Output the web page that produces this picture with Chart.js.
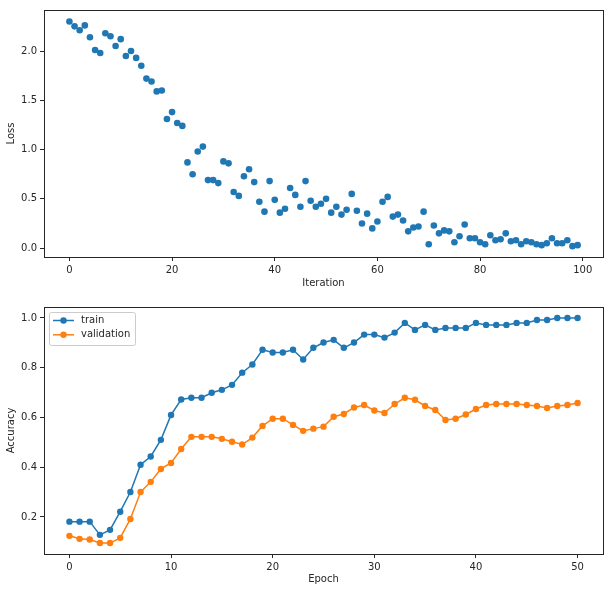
<!DOCTYPE html>
<html>
<head>
<meta charset="utf-8">
<script src="https://cdn.jsdelivr.net/npm/chart.js@4"></script>
<style>
  body { margin: 0; background: #fff; }
  #wrap { position: relative; width: 612px; height: 592px; }
  #lossBox { position: absolute; left: 0; top: 0; width: 612px; height: 290px; }
  #accBox { position: absolute; left: 0; top: 290px; width: 612px; height: 302px; }
</style>
</head>
<body>
<div id="wrap">
  <div id="lossBox"><canvas id="lossChart"></canvas></div>
  <div id="accBox"><canvas id="accChart"></canvas></div>
</div>
<script>
// loss per iteration (index = iteration)
const lossValues = [
  2.30, 2.25, 2.21, 2.26, 2.14, 2.01, 1.98, 2.18, 2.15, 2.05,
  2.12, 1.95, 2.00, 1.93, 1.85, 1.72, 1.69, 1.59, 1.60, 1.31,
  1.38, 1.27, 1.24, 0.87, 0.75, 0.98, 1.03, 0.69, 0.69, 0.66,
  0.88, 0.86, 0.57, 0.53, 0.73, 0.80, 0.67, 0.47, 0.37, 0.68,
  0.49, 0.36, 0.40, 0.61, 0.54, 0.42, 0.68, 0.48, 0.42, 0.45,
  0.50, 0.36, 0.42, 0.34, 0.39, 0.55, 0.38, 0.25, 0.35, 0.20,
  0.27, 0.47, 0.52, 0.32, 0.34, 0.28, 0.17, 0.21, 0.22, 0.37,
  0.04, 0.23, 0.15, 0.18, 0.17, 0.06, 0.12, 0.24, 0.10, 0.10,
  0.06, 0.04, 0.13, 0.08, 0.09, 0.15, 0.07, 0.08, 0.04, 0.07,
  0.06, 0.04, 0.03, 0.05, 0.10, 0.05, 0.05, 0.08, 0.02, 0.03
];

// accuracy per epoch (index = epoch)
const trainAcc = [
  0.181, 0.181, 0.181, 0.128, 0.148, 0.221, 0.300, 0.410, 0.443, 0.510,
  0.610, 0.672, 0.679, 0.679, 0.699, 0.711, 0.731, 0.780, 0.813, 0.872,
  0.861, 0.861, 0.872, 0.833, 0.880, 0.901, 0.912, 0.880, 0.901, 0.933,
  0.933, 0.921, 0.941, 0.980, 0.952, 0.972, 0.952, 0.960, 0.960, 0.960,
  0.980, 0.972, 0.972, 0.972, 0.980, 0.980, 0.992, 0.992, 1.000, 1.000,
  1.000
];
const valAcc = [
  0.124, 0.112, 0.109, 0.095, 0.095, 0.116, 0.192, 0.300, 0.341, 0.393,
  0.417, 0.473, 0.522, 0.522, 0.522, 0.514, 0.502, 0.491, 0.519, 0.566,
  0.595, 0.595, 0.570, 0.546, 0.555, 0.563, 0.603, 0.614, 0.640, 0.650,
  0.628, 0.618, 0.654, 0.679, 0.671, 0.646, 0.630, 0.590, 0.595, 0.612,
  0.634, 0.650, 0.654, 0.654, 0.654, 0.650, 0.646, 0.638, 0.646, 0.650,
  0.658
];

const iterTicks = [0, 20, 40, 60, 80, 100];
const lossTicks = [0, 0.5, 1.0, 1.5, 2.0];
const epochTicks = [0, 10, 20, 30, 40, 50];
const accTicks = [0.2, 0.4, 0.6, 0.8, 1.0];

const BLUE = "#1f77b4";
const ORANGE = "#ff7f0e";
const INK = "#262626";
const FONT = "DejaVu Sans";

// matplotlib-like box around the plot area
const frame = {
  id: "frame",
  afterDraw(chart) {
    const a = chart.chartArea;
    const ctx = chart.ctx;
    ctx.save();
    ctx.strokeStyle = INK;
    ctx.lineWidth = 1;
    ctx.strokeRect(Math.round(a.left) + 0.5, Math.round(a.top) + 0.5,
      Math.round(a.right - a.left), Math.round(a.bottom - a.top));
    ctx.restore();
  }
};

// legend drawn inside the plot, upper left
const innerLegend = {
  id: "innerLegend",
  afterDraw(chart) {
    const a = chart.chartArea;
    const ctx = chart.ctx;
    const x0 = a.left + 5.5, y0 = a.top + 5.5;
    ctx.save();
    ctx.fillStyle = "rgba(255,255,255,0.8)";
    ctx.strokeStyle = "#cccccc";
    ctx.lineWidth = 1;
    ctx.beginPath();
    ctx.roundRect(x0, y0, 86, 33, 2);
    ctx.fill();
    ctx.stroke();
    ctx.font = "10px '" + FONT + "'";
    ctx.textBaseline = "middle";
    chart.data.datasets.forEach((ds, i) => {
      const cy = y0 + 8 + i * 14.3;
      ctx.strokeStyle = ds.borderColor;
      ctx.lineWidth = 1.5;
      ctx.beginPath();
      ctx.moveTo(x0 + 3.5, cy);
      ctx.lineTo(x0 + 24.5, cy);
      ctx.stroke();
      ctx.fillStyle = ds.borderColor;
      ctx.beginPath();
      ctx.arc(x0 + 14, cy, 3.2, 0, Math.PI * 2);
      ctx.fill();
      ctx.fillStyle = INK;
      ctx.fillText(ds.label, x0 + 31.5, cy);
    });
    ctx.restore();
  }
};

function axis(min, max, ticks, title, fmt, fitSize, horizontal, titlePad) {
  return {
    type: "linear",
    min: min,
    max: max,
    afterBuildTicks: (s) => { s.ticks = ticks.map((v) => ({ value: v })); },
    afterFit: (s) => { if (horizontal) s.height = fitSize; else s.width = fitSize; },
    grid: { drawOnChartArea: false, drawTicks: true, tickLength: 4, tickColor: INK, tickWidth: 1 },
    border: { display: false },
    ticks: {
      color: INK,
      padding: 3,
      maxRotation: 0,
      autoSkip: false,
      font: { family: FONT, size: 10 },
      callback: fmt
    },
    title: {
      display: true,
      text: title,
      color: INK,
      font: { family: FONT, size: 10 },
      padding: titlePad
    }
  };
}

Chart.defaults.animation = false;
Chart.defaults.devicePixelRatio = 1;

new Chart(document.getElementById("lossChart"), {
  type: "scatter",
  data: {
    datasets: [{
      data: lossValues.map((v, i) => ({ x: i, y: v })),
      backgroundColor: BLUE,
      borderWidth: 0,
      pointRadius: 3.3,
      pointHoverRadius: 3.3
    }]
  },
  options: {
    responsive: true,
    maintainAspectRatio: false,
    layout: { padding: { top: 10, right: 9, left: 0, bottom: 0 } },
    plugins: { legend: { display: false }, tooltip: { enabled: false } },
    scales: {
      x: axis(-4.95, 103.95, iterTicks, "Iteration", (v) => v, 33, true, { top: 0, bottom: 1 }),
      y: axis(-0.09, 2.416, lossTicks, "Loss", (v) => v.toFixed(1), 44, false, { top: 5, bottom: 0 })
    }
  },
  plugins: [frame]
});

new Chart(document.getElementById("accChart"), {
  type: "line",
  data: {
    datasets: [
      {
        label: "train",
        data: trainAcc.map((v, i) => ({ x: i, y: v })),
        borderColor: BLUE,
        backgroundColor: BLUE,
        pointBackgroundColor: BLUE,
        borderWidth: 1.5,
        pointBorderWidth: 0,
        pointRadius: 3.2,
        tension: 0
      },
      {
        label: "validation",
        data: valAcc.map((v, i) => ({ x: i, y: v })),
        borderColor: ORANGE,
        backgroundColor: ORANGE,
        pointBackgroundColor: ORANGE,
        borderWidth: 1.5,
        pointBorderWidth: 0,
        pointRadius: 3.2,
        tension: 0
      }
    ]
  },
  options: {
    responsive: true,
    maintainAspectRatio: false,
    layout: { padding: { top: 17, right: 9, left: 0, bottom: 0 } },
    plugins: { legend: { display: false }, tooltip: { enabled: false } },
    scales: {
      x: axis(-2.5, 52.5, epochTicks, "Epoch", (v) => v, 38, true, { top: 0, bottom: 7 }),
      y: axis(0.051, 1.044, accTicks, "Accuracy", (v) => v.toFixed(1), 44, false, { top: 5, bottom: 0 })
    }
  },
  plugins: [frame, innerLegend]
});
</script>
</body>
</html>
